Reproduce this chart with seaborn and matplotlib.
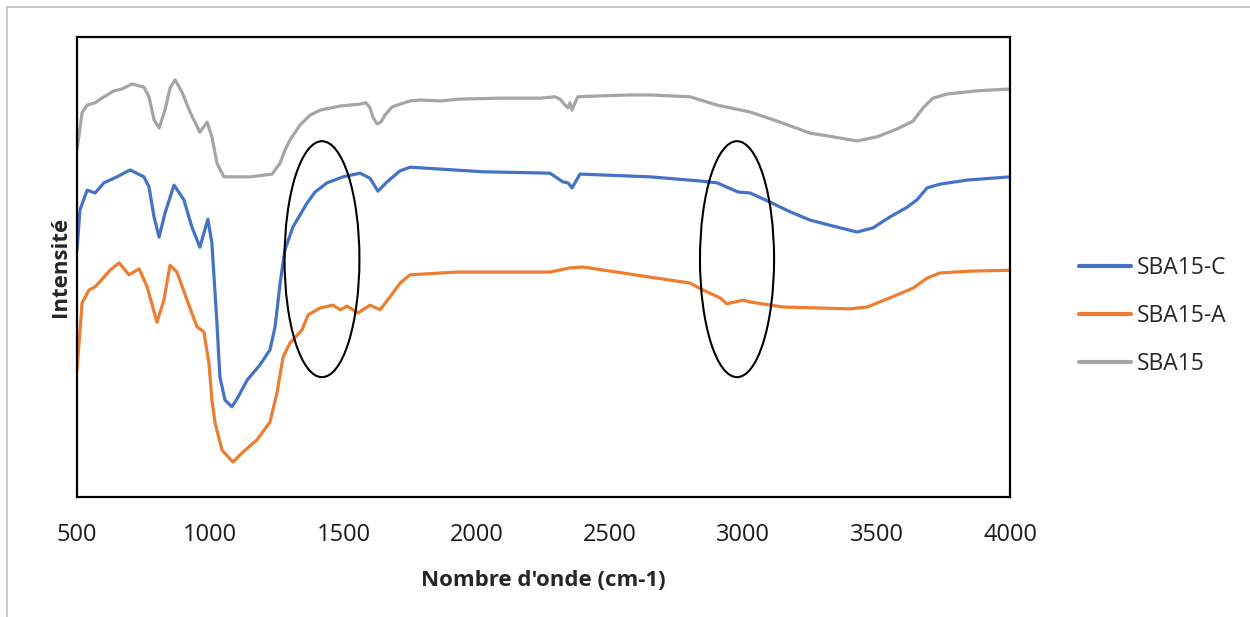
import matplotlib
matplotlib.use("Agg")
import matplotlib.pyplot as plt
from matplotlib.patches import Ellipse
from matplotlib.lines import Line2D
import seaborn as sns
import pandas as pd

# ---------------- data ----------------
series_names = ["SBA15-C", "SBA15-A", "SBA15"]
series_colors = ["#4472C4", "#ED7D31", "#A5A5A5"]

sba15_x = [500, 519, 538, 568, 601, 639, 669, 706, 751, 770, 789, 808, 830, 849, 868, 894,
           924, 961, 988, 1006, 1025, 1051, 1149, 1232, 1262, 1280, 1299, 1337, 1374, 1412,
           1487, 1562, 1584, 1599, 1610, 1625, 1640, 1655, 1682, 1712, 1749, 1787, 1862,
           1937, 2087, 2237, 2293, 2312, 2331, 2342, 2349, 2357, 2368, 2379, 2462, 2574,
           2650, 2800, 2901, 3025, 3137, 3250, 3336, 3426, 3501, 3576, 3636, 3674, 3711,
           3764, 3876, 4000]
sba15_y = [75.4, 83.5, 85.2, 85.7, 87.0, 88.3, 88.7, 89.8, 89.1, 87.0, 82.0, 80.2, 84.1,
           88.9, 90.7, 88.0, 83.7, 79.3, 81.5, 78.3, 72.6, 69.6, 69.6, 70.2, 72.6, 75.4,
           77.6, 80.9, 83.0, 84.1, 85.0, 85.4, 85.7, 84.6, 82.6, 81.1, 81.5, 83.0, 84.8,
           85.4, 86.1, 86.3, 86.1, 86.5, 86.7, 86.7, 87.0, 86.5, 85.2, 84.6, 85.7, 84.1,
           85.7, 87.0, 87.2, 87.4, 87.4, 87.0, 85.2, 83.7, 81.5, 79.1, 78.3, 77.4, 78.3,
           80.0, 81.7, 84.6, 86.7, 87.6, 88.3, 88.7]

sba15c_x = [500, 511, 538, 568, 601, 650, 699, 751, 770, 789, 808, 830, 864, 901, 931, 961,
            991, 1006, 1025, 1036, 1055, 1081, 1104, 1138, 1186, 1224, 1243, 1262, 1280,
            1310, 1363, 1393, 1438, 1498, 1562, 1599, 1629, 1663, 1712, 1749, 2023, 2274,
            2323, 2342, 2357, 2387, 2650, 2837, 2901, 2980, 3025, 3100, 3175, 3250, 3336,
            3426, 3486, 3550, 3614, 3651, 3689, 3737, 3839, 4000]
sba15c_y = [53.7, 62.4, 66.7, 66.1, 68.3, 69.6, 71.1, 69.6, 67.4, 60.9, 56.5, 61.7, 67.8,
            64.6, 58.7, 54.3, 60.4, 55.2, 37.8, 26.1, 21.1, 19.6, 21.7, 25.4, 28.7, 32.0,
            37.0, 46.5, 53.7, 58.7, 63.9, 66.3, 68.3, 69.6, 70.4, 69.3, 66.5, 68.5, 70.9,
            71.7, 70.7, 70.4, 68.5, 68.3, 67.2, 70.2, 69.6, 68.7, 68.3, 66.3, 66.1, 64.1,
            62.0, 60.2, 58.9, 57.6, 58.5, 60.9, 63.0, 64.6, 67.2, 68.0, 68.9, 69.6]

sba15a_x = [500, 519, 545, 568, 601, 624, 658, 695, 733, 763, 800, 826, 849, 875, 913, 950,
            976, 995, 1006, 1018, 1044, 1085, 1123, 1175, 1224, 1250, 1273, 1299, 1344,
            1367, 1412, 1460, 1487, 1513, 1554, 1599, 1637, 1674, 1712, 1749, 1926, 2274,
            2349, 2398, 2650, 2800, 2848, 2912, 2938, 2998, 3025, 3148, 3276, 3400, 3464,
            3550, 3636, 3689, 3737, 3850, 4000]
sba15a_y = [27.6, 42.2, 45.0, 45.7, 47.8, 49.3, 50.9, 48.3, 49.6, 45.7, 38.0, 42.8, 50.4,
            48.9, 42.8, 37.0, 35.9, 29.1, 21.1, 16.1, 10.2, 7.6, 9.8, 12.4, 16.3, 22.6,
            30.4, 33.5, 36.3, 39.6, 41.1, 41.7, 40.7, 41.5, 40.0, 41.7, 40.7, 43.5, 46.5,
            48.3, 48.9, 48.9, 49.8, 50.0, 47.8, 46.5, 45.0, 43.3, 42.0, 42.8, 42.4, 41.3,
            41.1, 40.9, 41.3, 43.3, 45.4, 47.6, 48.7, 49.1, 49.3]

# highlighted regions (ellipses): centre wavenumber, width, centre intensity, height
ellipse_cx = [1419, 2976]
ellipse_w = [281, 278]
ellipse_cy = [51.7, 51.7]
ellipse_h = [51.3, 51.3]

x_ticks = [500, 1000, 1500, 2000, 2500, 3000, 3500, 4000]
x_label = "Nombre d'onde (cm-1)"
y_label = "Intensité"

# ---------------- build long-form table ----------------
frames = []
for name, xs, ys in [("SBA15-C", sba15c_x, sba15c_y),
                     ("SBA15-A", sba15a_x, sba15a_y),
                     ("SBA15", sba15_x, sba15_y)]:
    frames.append(pd.DataFrame({"wn": xs, "I": ys, "serie": name}))
df = pd.concat(frames, ignore_index=True)

# ---------------- plot ----------------
sns.set_theme(style="white")
plt.rcParams["font.family"] = ["Open Sans", "DejaVu Sans"]

fig = plt.figure(figsize=(12.5, 6.17), dpi=100)
ax = fig.add_axes([77 / 1250, 1 - 497 / 617, (1010 - 77) / 1250, (497 - 37) / 617])

sns.lineplot(data=df, x="wn", y="I", hue="serie", hue_order=series_names,
             palette=series_colors, sort=False, estimator=None, linewidth=2.3,
             ax=ax)
for ln in ax.get_lines():
    ln.set_solid_joinstyle("round")
    ln.set_solid_capstyle("round")

for cx, w, cy, h in zip(ellipse_cx, ellipse_w, ellipse_cy, ellipse_h):
    ax.add_patch(Ellipse((cx, cy), w, h, facecolor="none", edgecolor="black",
                         linewidth=1.5, zorder=5))

ax.set_xlim(500, 4000)
ax.set_ylim(0, 100)
ax.set_xticks(x_ticks)
ax.set_xticklabels([str(t) for t in x_ticks], fontsize=17, color="#1a1a1a")
ax.tick_params(axis="x", length=0, pad=19)
ax.set_yticks([])
ax.set_xlabel(x_label, fontsize=16, fontweight="bold", labelpad=16)
ax.set_ylabel(y_label, fontsize=16, fontweight="bold", labelpad=4)
for s in ax.spines.values():
    s.set_color("black")
    s.set_linewidth(1.6)
    s.set_visible(True)

handles, labels = ax.get_legend_handles_labels()
leg = ax.legend(handles, labels, loc="center left",
                bbox_to_anchor=(1058 / 1250, 1 - 316 / 617),
                bbox_transform=fig.transFigure, frameon=False, fontsize=16.5,
                handlelength=2.3, handletextpad=0.25, labelspacing=1.05)
for lh in leg.get_lines():
    lh.set_linewidth(3)

# outer chart border (left and top only visible)
fig.add_artist(Line2D([7 / 1250, 7 / 1250], [0, 1 - 7 / 617], transform=fig.transFigure,
                      color="#BFBFBF", linewidth=1.2))
fig.add_artist(Line2D([7 / 1250, 1], [1 - 7 / 617, 1 - 7 / 617], transform=fig.transFigure,
                      color="#BFBFBF", linewidth=1.2))

fig.savefig("out.png", dpi=100, facecolor="white")
